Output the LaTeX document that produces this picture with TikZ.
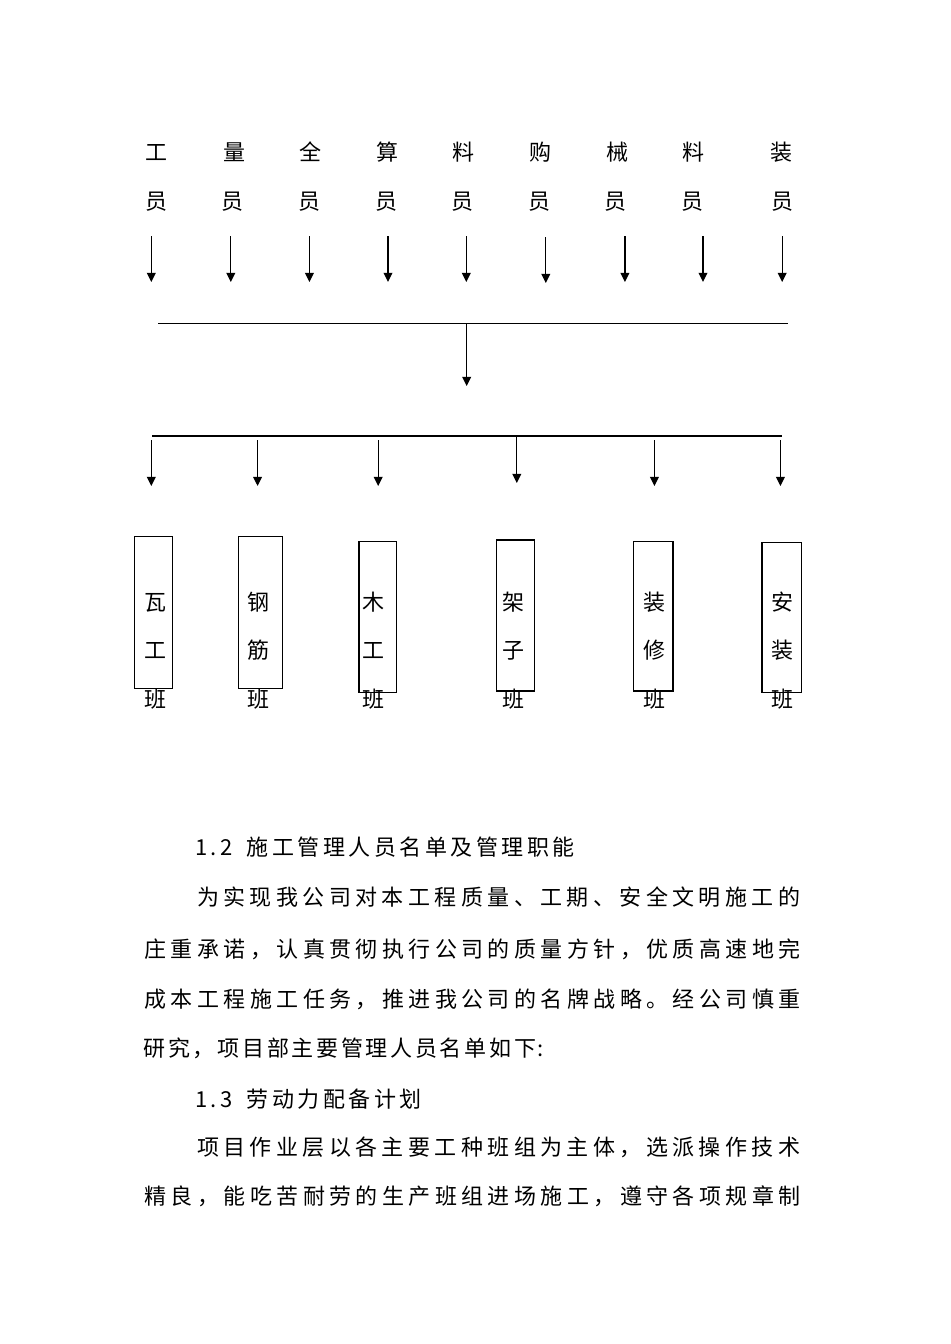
\documentclass[tikz,border=0pt]{standalone}
\usepackage{fontspec}
\setmainfont{Noto Sans CJK SC}
\usetikzlibrary{arrows.meta}
\makeatletter
\newcommand\chbox[2]{\def\chb@w{#1}\chb@loop#2\relax}
\def\chb@loop#1{\ifx\relax#1\else\makebox[\chb@w][c]{#1}\expandafter\chb@loop\fi}
\makeatother
\tikzset{
  lbl/.style={font=\fontsize{11pt}{12pt}\selectfont, inner sep=0pt, outer sep=0pt,
              text height=9.68pt, text depth=1.32pt},
  txt/.style={lbl, anchor=west},
  arr/.style={line width=0.65pt, -{Triangle[length=4.6pt,width=4.4pt]}},
  bar/.style={line width=0.65pt},
  team/.style={draw, line width=0.65pt, inner sep=0pt, outer sep=0pt}
}
\begin{document}
\begin{tikzpicture}[x=0.5pt,y=-0.5pt]
\useasboundingbox[fill=white] (0,0) rectangle (950,1344);

% top labels
\foreach \i/\x/\xr/\c in {1/156/156/工,2/234/232/量,3/310/309/全,4/387/386/算,5/463/462/料,6/540/539/购,7/617/615/械,8/693/692/料,9/781/782/装}{
  \node[lbl] (t\i) at (\x,152) {\c};
  \node[lbl] (r\i) at (\xr,201) {员};
}
% top arrows
\foreach \i/\x/\ya/\yb in {1/151.3/236/282,2/230.8/236/282,3/309.4/236/282,4/388/236/282,5/466.3/236/282,6/545.8/237/283,7/624.9/236/282,8/703/236/282,9/782.2/236/282}{
  \coordinate (as\i) at (\x,\ya);
  \coordinate (ae\i) at (\x,\yb);
  \draw[arr] (as\i) -- (ae\i);
}
% top bar and centre arrow
\coordinate (barL) at (158,323.3);
\coordinate (barR) at (788,323.3);
\draw[bar] (barL) -- (barR);
\coordinate (cs) at (466.7,323.3);
\coordinate (ce) at (466.7,386);
\draw[arr] (cs) -- (ce);

% second bar
\coordinate (bar2L) at (152,436);
\coordinate (bar2R) at (782,436);
\draw[bar] (bar2L) -- (bar2R);
\foreach \i/\x/\ya/\yb in {1/151.3/440/486,2/257.6/440/486,3/378.2/440/486,4/516.8/436/483,5/654.4/440/486,6/780.4/440/486}{
  \coordinate (bs\i) at (\x,\ya);
  \coordinate (be\i) at (\x,\yb);
  \draw[arr] (bs\i) -- (be\i);
}

% team boxes
\foreach \i/\cx/\cy/\w/\h in {1/153.5/612.5/37.6/151.6,2/260.3/612.5/43.8/151.6,3/377.8/617/37.6/151.4,4/515.4/615.5/37.6/151,5/653.45/616.15/39.3/149.7,6/781.7/617.7/39.4/150}{
  \node[team, minimum width=\w*0.5pt, minimum height=\h*0.5pt] (b\i) at (\cx,\cy) {};
}
\foreach \i/\x/\a/\b in {1/155.7/瓦/工,2/258.5/钢/筋,3/373.8/木/工,4/513.2/架/子,5/654/装/修,6/782.2/安/装}{
  \node[lbl] (k\i a) at (\x,601.7) {\a};
  \node[lbl] (k\i b) at (\x,650) {\b};
  \node[lbl] (k\i c) at (\x,699) {班};
}

% body text
\node[txt] (h1n) at (195,847.5) {\chbox{6.25pt}{1.2}};
\node[txt] (h1t) at (245,847.5) {\chbox{12.75pt}{施工管理人员名单及管理职能}};
\node[txt] (p1) at (194.8,897.5) {\chbox{13.21pt}{为实现我公司对本工程质量、工期、安全文明施工的}};
\node[txt] (p2) at (142.3,949) {\chbox{13.21pt}{庄重承诺，认真贯彻执行公司的质量方针，优质高速地完}};
\node[txt] (p3) at (142.3,999) {\chbox{13.21pt}{成本工程施工任务，推进我公司的名牌战略。经公司慎重}};
\node[txt] (p4) at (142.2,1048) {\chbox{12.35pt}{研究，项目部主要管理人员名单如下}\makebox[8pt][l]{:}};
\node[txt] (h2n) at (195,1099) {\chbox{6.25pt}{1.3}};
\node[txt] (h2t) at (245,1099) {\chbox{12.75pt}{劳动力配备计划}};
\node[txt] (p5) at (194.8,1147) {\chbox{13.21pt}{项目作业层以各主要工种班组为主体，选派操作技术}};
\node[txt] (p6) at (142.3,1196) {\chbox{13.21pt}{精良，能吃苦耐劳的生产班组进场施工，遵守各项规章制}};
\end{tikzpicture}
\end{document}
